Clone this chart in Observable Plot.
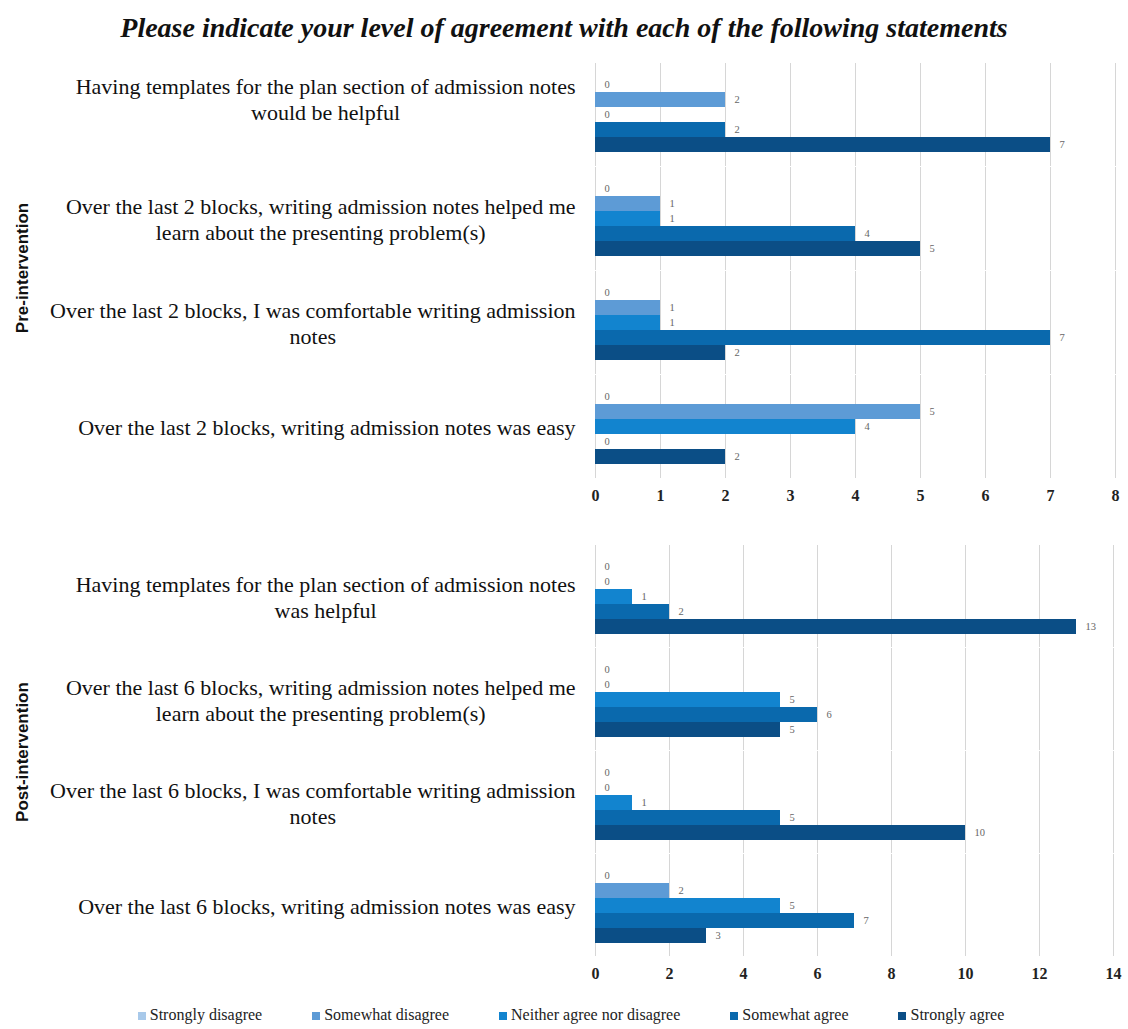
<!DOCTYPE html>
<html><head><meta charset="utf-8">
<script src="https://cdn.jsdelivr.net/npm/d3@7"></script>
<script src="https://cdn.jsdelivr.net/npm/@observablehq/plot@0.6"></script>
<style>
body{margin:0;background:#fff;width:1128px;overflow:hidden;}
#title{height:55px;display:flex;align-items:center;justify-content:center;font:italic bold 28px "Liberation Serif",serif;color:#111;}
.panel{position:relative;}
.glabel{position:absolute;left:23px;transform:translate(-50%,-50%) rotate(-90deg);font:bold 17px "Liberation Sans",sans-serif;color:#111;white-space:nowrap;}
#legend{height:29px;display:flex;align-items:center;justify-content:center;gap:50px;font:16px "Liberation Serif",serif;color:#222;padding-left:14px;}
#legend span.sw{display:inline-block;width:8px;height:8px;margin-right:4px;vertical-align:middle;}
svg{display:block;}
</style></head><body>
<div id="title">Please indicate your level of agreement with each of the following statements</div>
<div class="panel" id="top"></div>
<div class="panel" id="bottom"></div>
<div id="legend"></div>
<script>
const responses = ["Strongly disagree","Somewhat disagree","Neither agree nor disagree","Somewhat agree","Strongly agree"];
const colors = ["#a8c9ea","#5d9bd6","#1284cf","#0a69ad","#0b4e86"];

const preQuestions = [
  "Having templates for the plan section of admission notes\nwould be helpful",
  "Over the last 2 blocks, writing admission notes helped me\nlearn about the presenting problem(s)",
  "Over the last 2 blocks, I was comfortable writing admission\nnotes",
  "Over the last 2 blocks, writing admission notes was easy"
];
const preStronglyDisagree = [0,0,0,0];
const preSomewhatDisagree = [2,1,1,5];
const preNeither = [0,1,1,4];
const preSomewhatAgree = [2,4,7,0];
const preStronglyAgree = [7,5,2,2];
const preTicks = [0,1,2,3,4,5,6,7,8];

const postQuestions = [
  "Having templates for the plan section of admission notes\nwas helpful",
  "Over the last 6 blocks, writing admission notes helped me\nlearn about the presenting problem(s)",
  "Over the last 6 blocks, I was comfortable writing admission\nnotes",
  "Over the last 6 blocks, writing admission notes was easy"
];
const postStronglyDisagree = [0,0,0,0];
const postSomewhatDisagree = [0,0,0,2];
const postNeither = [1,5,1,5];
const postSomewhatAgree = [2,6,5,7];
const postStronglyAgree = [13,5,10,3];
const postTicks = [0,2,4,6,8,10,12,14];

const serif = "Liberation Serif, Times New Roman, serif";
const qFontSize = 22;
const ctx = document.createElement("canvas").getContext("2d");
ctx.font = `${qFontSize}px "Liberation Serif"`;
function blockWidth(s) { return Math.max(...s.split("\n").map(l => ctx.measureText(l).width)); }

function rowsOf(questions, series) {
  const rows = [];
  questions.forEach((q, i) => {
    responses.forEach((r, j) => rows.push({question: q, response: r, value: series[j][i]}));
  });
  return rows;
}

function panel(el, questions, series, ticks, groupLabel, opts) {
  const rows = rowsOf(questions, series);
  const qMarks = questions.map((q, i) => Plot.text([q], {
    fy: d => d, text: d => d, frameAnchor: "left",
    dx: -(20 + blockWidth(q) / 2), dy: i === 0 ? opts.firstDy : 0,
    textAnchor: "middle", lineHeight: 1.18, fontSize: qFontSize, fontFamily: serif, fill: "#111"
  }));
  const chart = Plot.plot({
    width: 1128,
    height: opts.height,
    marginLeft: 595,
    marginRight: opts.marginRight,
    marginTop: opts.marginTop,
    marginBottom: opts.marginBottom,
    x: {domain: [ticks[0], ticks[ticks.length - 1]]},
    y: {domain: responses, padding: 0, axis: null},
    fy: {domain: questions, paddingInner: 0.26, paddingOuter: 0, axis: null},
    color: {domain: responses, range: colors},
    marks: [
      Plot.gridX(ticks, {stroke: "#d6d6d6", strokeOpacity: 1, strokeWidth: 1, insetTop: -13, insetBottom: -13}),
      Plot.barX(rows, {x: "value", y: "response", fy: "question", fill: "response"}),
      Plot.text(rows, {x: "value", y: "response", fy: "question", text: d => String(d.value), dx: 9, textAnchor: "start", fontSize: 10.5, fill: "#666", fontFamily: serif}),
      Plot.axisX({ticks, tickSize: 0, tickPadding: 24, fontSize: 16, fontWeight: "bold", fontFamily: serif, fill: "#222", label: null}),
      ...qMarks
    ]
  });
  el.appendChild(chart);
  const g = document.createElement("div");
  g.className = "glabel";
  g.textContent = groupLabel;
  g.style.top = opts.labelY + "px";
  el.appendChild(g);
}

panel(document.getElementById("top"), preQuestions,
  [preStronglyDisagree, preSomewhatDisagree, preNeither, preSomewhatAgree, preStronglyAgree],
  preTicks, "Pre-intervention",
  {height: 455, marginTop: 21, marginBottom: 45, marginRight: 13, labelY: 213, firstDy: -16});

panel(document.getElementById("bottom"), postQuestions,
  [postStronglyDisagree, postSomewhatDisagree, postNeither, postSomewhatAgree, postStronglyAgree],
  postTicks, "Post-intervention",
  {height: 490, marginTop: 47, marginBottom: 55, marginRight: 15, labelY: 242, firstDy: 0});

const legend = document.getElementById("legend");
responses.forEach((r, i) => {
  const item = document.createElement("span");
  item.innerHTML = `<span class="sw" style="background:${colors[i]}"></span>${r}`;
  legend.appendChild(item);
});
</script>
</body></html>
